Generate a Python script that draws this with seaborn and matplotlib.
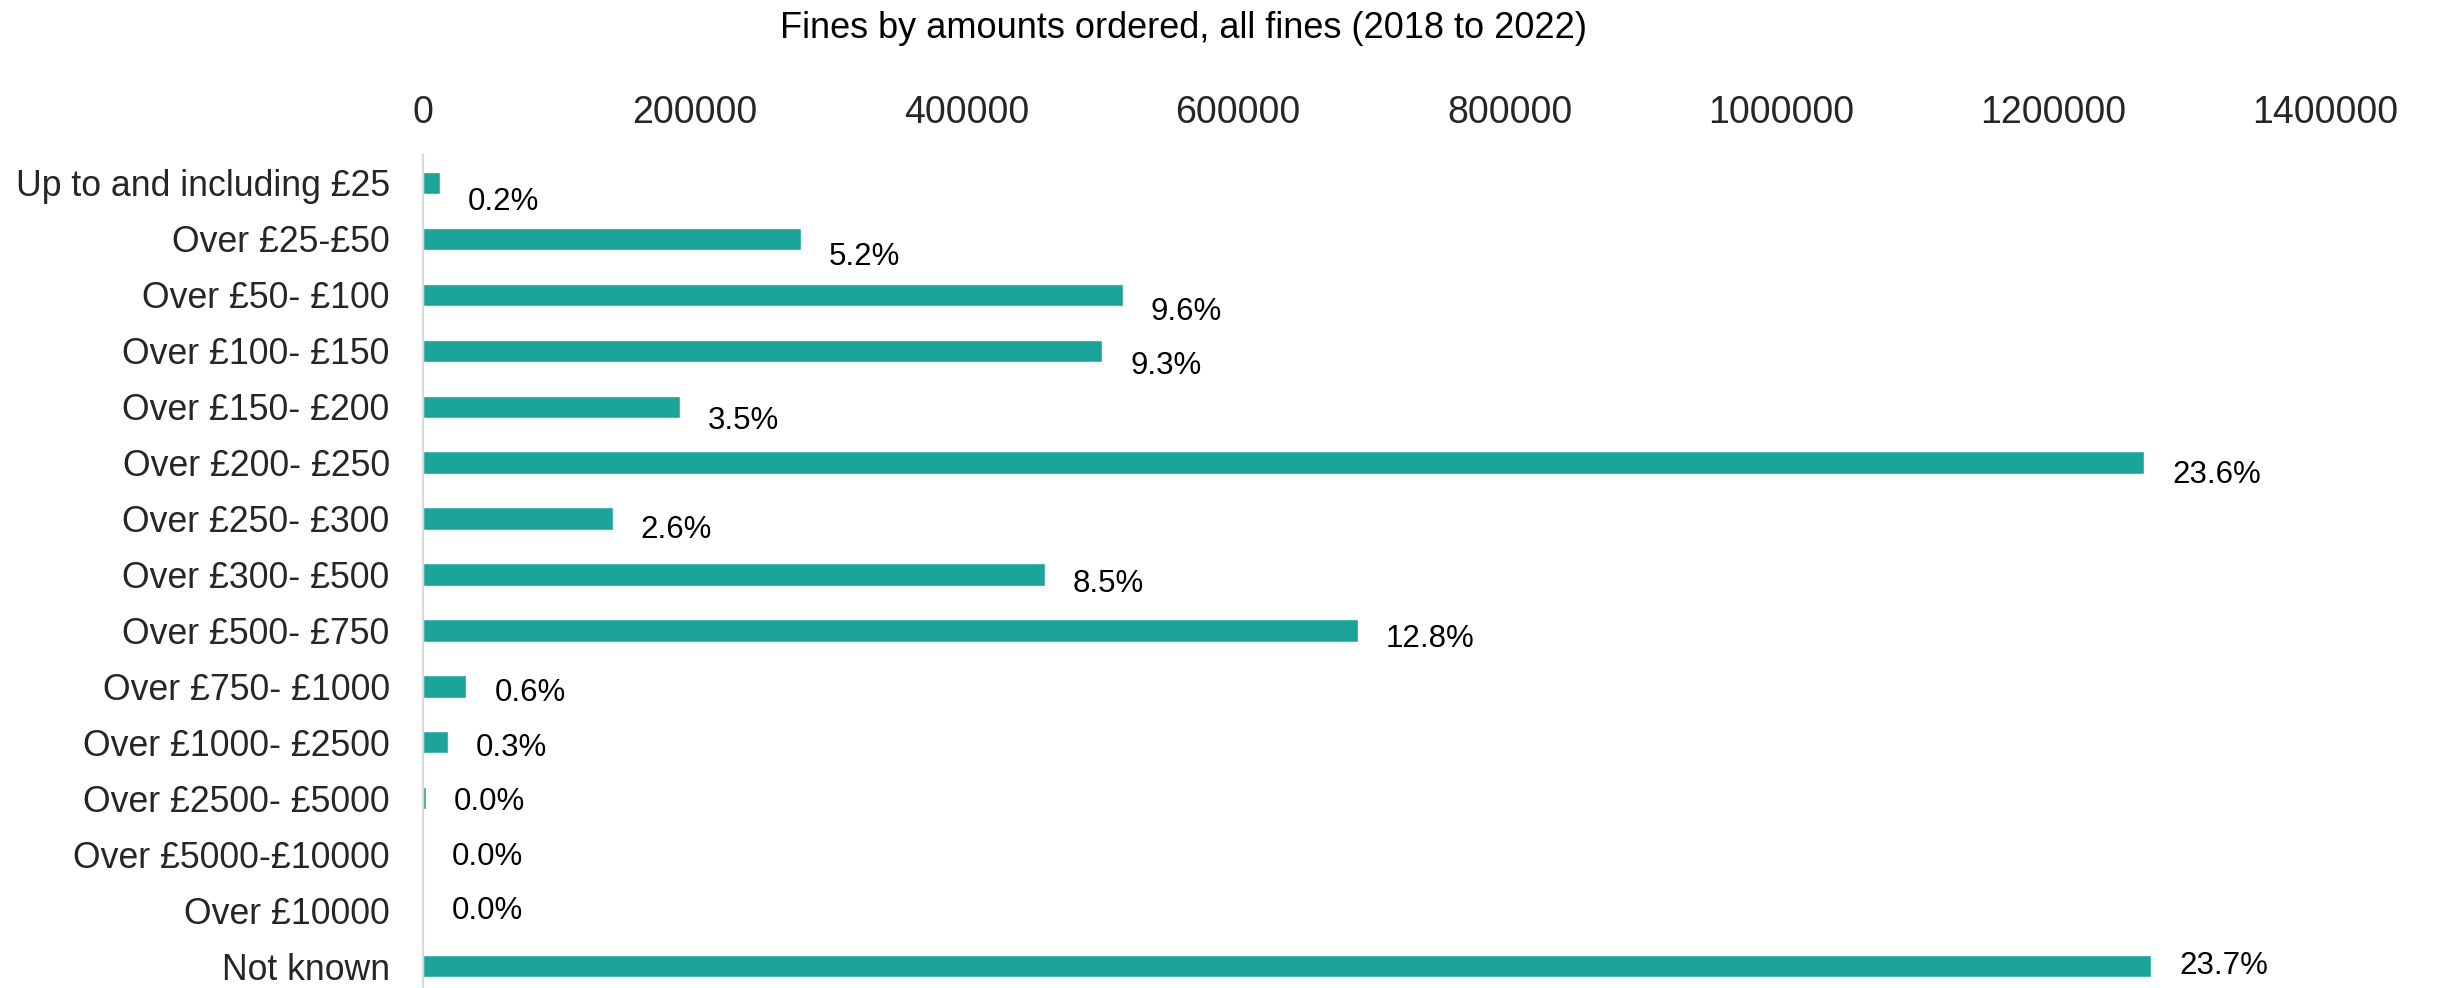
import numpy as np
import pandas as pd
import matplotlib
matplotlib.use("Agg")
import matplotlib.pyplot as plt
import seaborn as sns

# Fine amount bands and the number of fines ordered in each (2018 to 2022)
bands = [
    "Up to and including £25",
    "Over £25-£50",
    "Over £50- £100",
    "Over £100- £150",
    "Over £150- £200",
    "Over £200- £250",
    "Over £250- £300",
    "Over £300- £500",
    "Over £500- £750",
    "Over £750- £1000",
    "Over £1000- £2500",
    "Over £2500- £5000",
    "Over £5000-£10000",
    "Over £10000",
    "Not known",
]
fines = [12600, 278500, 515000, 500000, 189000, 1267000, 139700, 457500,
         688000, 32000, 18300, 2000, 700, 400, 1272000]
share_pct = [0.2, 5.2, 9.6, 9.3, 3.5, 23.6, 2.6, 8.5, 12.8, 0.6, 0.3,
             0.0, 0.0, 0.0, 23.7]
x_ticks = [0, 200000, 400000, 600000, 800000, 1000000, 1200000, 1400000]

df = pd.DataFrame({"band": bands, "fines": fines, "share": share_pct})

sns.set_theme(style="white")
plt.rcParams["font.family"] = ["Liberation Sans", "DejaVu Sans"]

W, H = 2438, 988
fig = plt.figure(figsize=(W / 100, H / 100), dpi=100)
ax = fig.add_axes([423 / W, -6 / H, (2325 - 423) / W, (994 - 155) / H])

teal = "#1ca49b"
sns.barplot(data=df, x="fines", y="band", orient="h", color=teal,
            saturation=1, width=0.4, ax=ax)

ax.set_xlim(0, 1400000)
ax.set_ylim(len(bands) - 0.5, -0.5)
ax.set_xticks(x_ticks)
ax.set_xticklabels([str(t) for t in x_ticks])
ax.xaxis.tick_top()
ax.tick_params(axis="x", length=0, pad=17, labelsize=27)
ax.tick_params(axis="y", length=0, pad=24, labelsize=25.7)
ax.set_xlabel("")
ax.set_ylabel("")

for side in ("top", "right", "bottom"):
    ax.spines[side].set_visible(False)
ax.spines["left"].set_color("#d9d9d9")
ax.spines["left"].set_linewidth(1.5)
ax.grid(False)

# Percentage labels just past the end of each bar
drops = np.linspace(14, 0, len(bands))
for i, (v, p) in enumerate(zip(fines, share_pct)):
    ax.annotate(f"{p:.1f}%", xy=(v, i), xytext=(20, -drops[i]),
                textcoords="offset points", ha="left", va="center",
                fontsize=22.5, color="#000000")

fig.text(1183 / W, 1 - 28 / H, "Fines by amounts ordered, all fines (2018 to 2022)",
         ha="center", va="center", fontsize=26, color="#000000")

fig.savefig("out.png", dpi=100, facecolor="white")
